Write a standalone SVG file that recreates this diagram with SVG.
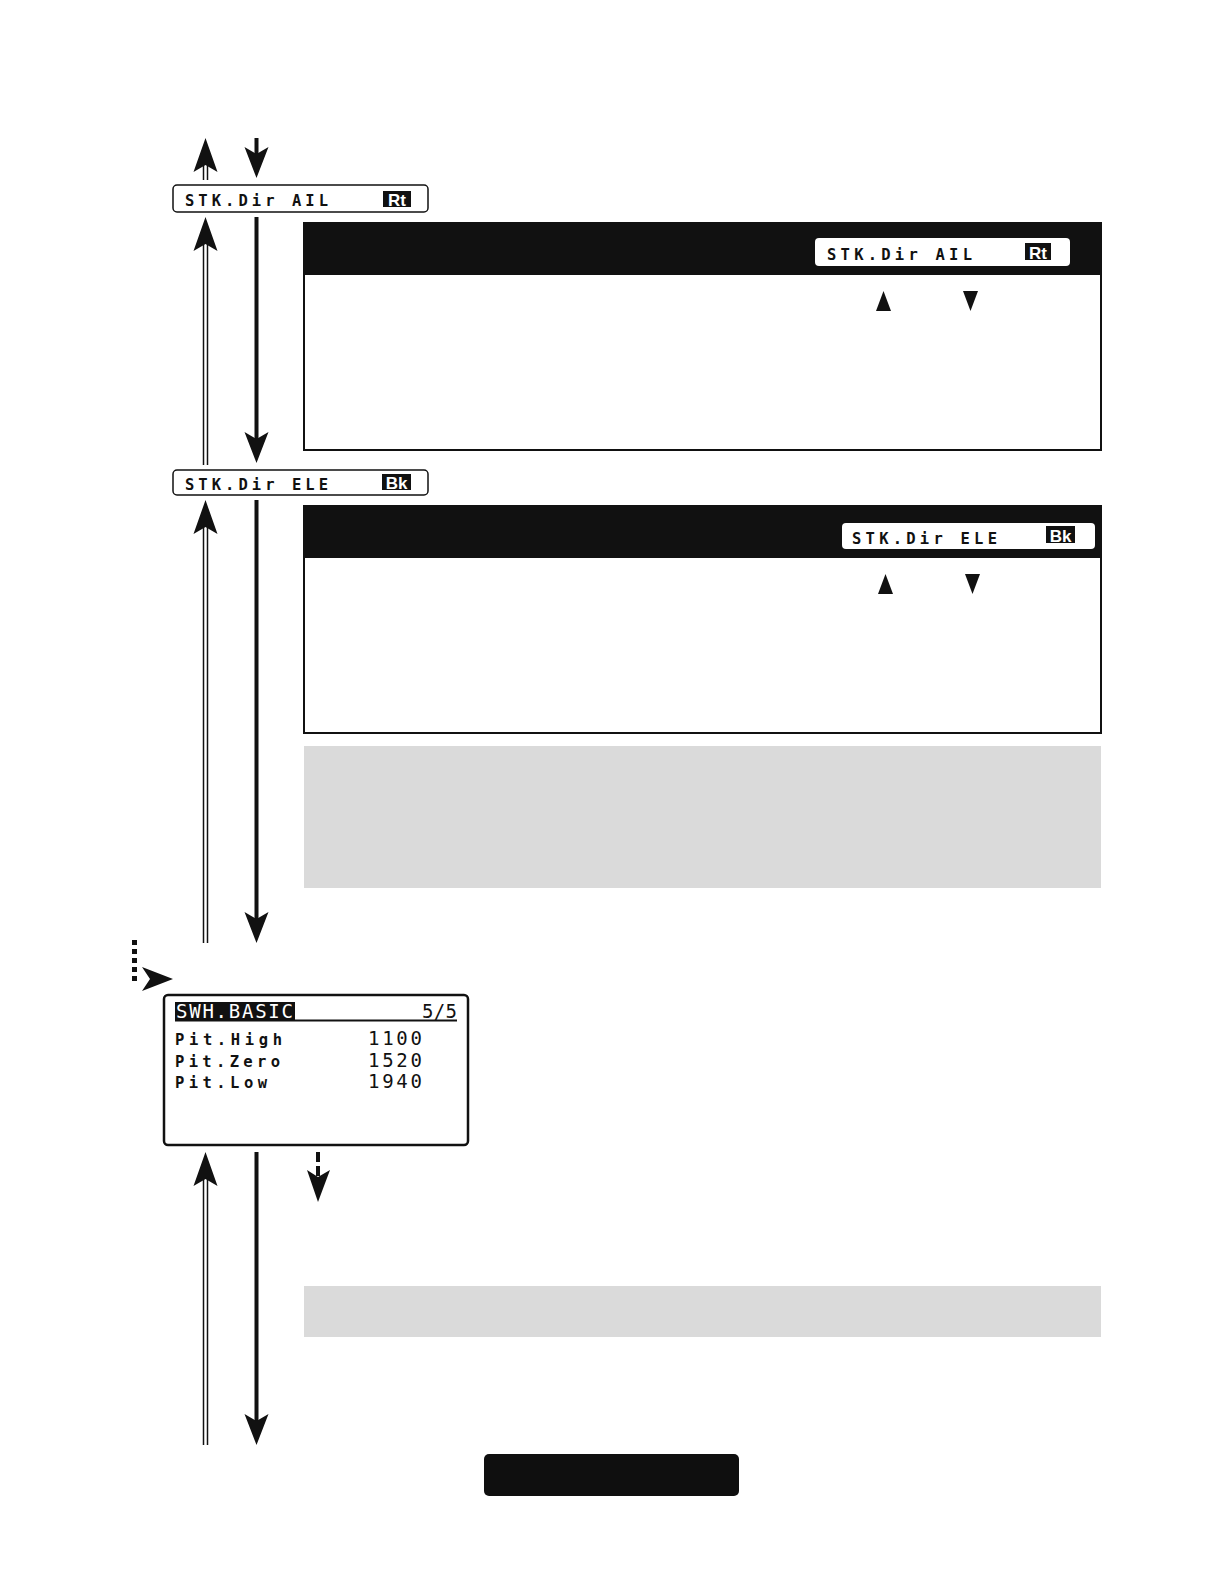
<svg xmlns="http://www.w3.org/2000/svg" xmlns:xlink="http://www.w3.org/1999/xlink" width="1224" height="1584" viewBox="0 0 1224 1584">
<style>
.lcd{font-family:"DejaVu Sans Mono","Liberation Mono",monospace;font-size:15.5px;font-weight:bold;fill:#111}
.lcd2{font-family:"DejaVu Sans Mono","Liberation Mono",monospace;font-size:19px;fill:#111}
.inv{font-family:"Liberation Sans","DejaVu Sans",sans-serif;font-size:17px;font-weight:bold;fill:#fff}
.lbl{fill:#fff;stroke:#111;stroke-width:1.5}
.panel{fill:#fff;stroke:#111;stroke-width:2}
.hdr{fill:#111}
.note{fill:#dadada}
.dbl{stroke:#111;stroke-width:1.5;fill:none}
.shaft{stroke:#111;stroke-width:4;fill:none}
.head{fill:#111}
</style>
<defs>
<path id="upHead" d="M0,0 L12,34 L0,27 L-12,34 Z"/>
<path id="dnHead" d="M0,0 L-12,-31 L0,-24 L12,-31 Z"/>
</defs>

<g id="connectors">
  <!-- segment 0 (top) -->
  <line class="dbl" x1="203.5" y1="162" x2="203.5" y2="180"/>
  <line class="dbl" x1="207.5" y1="162" x2="207.5" y2="180"/>
  <use href="#upHead" class="head" x="205.5" y="138"/>
  <line class="shaft" x1="256.5" y1="138" x2="256.5" y2="158"/>
  <use href="#dnHead" class="head" x="256.5" y="178"/>
  <!-- segment 1 -->
  <line class="dbl" x1="203.5" y1="240" x2="203.5" y2="465"/>
  <line class="dbl" x1="207.5" y1="240" x2="207.5" y2="465"/>
  <use href="#upHead" class="head" x="205.5" y="217"/>
  <line class="shaft" x1="256.5" y1="217" x2="256.5" y2="443"/>
  <use href="#dnHead" class="head" x="256.5" y="463"/>
  <!-- segment 2 -->
  <line class="dbl" x1="203.5" y1="523" x2="203.5" y2="943"/>
  <line class="dbl" x1="207.5" y1="523" x2="207.5" y2="943"/>
  <use href="#upHead" class="head" x="205.5" y="500"/>
  <line class="shaft" x1="256.5" y1="500" x2="256.5" y2="923"/>
  <use href="#dnHead" class="head" x="256.5" y="943"/>
  <!-- segment 3 -->
  <line class="dbl" x1="203.5" y1="1175" x2="203.5" y2="1445"/>
  <line class="dbl" x1="207.5" y1="1175" x2="207.5" y2="1445"/>
  <use href="#upHead" class="head" x="205.5" y="1152"/>
  <line class="shaft" x1="256.5" y1="1152" x2="256.5" y2="1425"/>
  <use href="#dnHead" class="head" x="256.5" y="1445"/>
  <!-- dotted entry arrow -->
  <line x1="134.5" y1="940" x2="134.5" y2="983" stroke="#111" stroke-width="5" stroke-dasharray="5 4"/>
  <path class="head" d="M173,979 L142,967 L150,979 L142,991 Z"/>
  <!-- dashed exit arrow -->
  <line x1="318" y1="1152" x2="318" y2="1178" stroke="#111" stroke-width="4" stroke-dasharray="10 4"/>
  <path class="head" d="M318,1202 L307,1170 L318,1177 L330,1170 Z"/>
</g>

<g id="node-stk-ail">
  <rect class="lbl" x="173" y="185" width="255" height="27" rx="4"/>
  <text class="lcd" x="185" y="206" textLength="143" lengthAdjust="spacing">STK.Dir AIL</text>
  <rect x="383" y="191" width="28" height="16" fill="#111"/>
  <text class="inv" x="397" y="206" text-anchor="middle">Rt</text>
</g>

<g id="node-panel-ail">
  <rect class="panel" x="304" y="223" width="797" height="227"/>
  <rect class="hdr" x="304" y="223" width="797" height="52"/>
  <rect x="815" y="238" width="255" height="28" rx="4" fill="#fff"/>
  <text class="lcd" x="827" y="260" textLength="145" lengthAdjust="spacing">STK.Dir AIL</text>
  <rect x="1025" y="243" width="26" height="17" fill="#111"/>
  <text class="inv" x="1038" y="259" text-anchor="middle">Rt</text>
  <polygon class="head" points="883.5,291 891,311 876,311"/>
  <polygon class="head" points="963,291 978,291 970.5,311"/>
</g>

<g id="node-stk-ele">
  <rect class="lbl" x="173" y="470" width="255" height="25" rx="4"/>
  <text class="lcd" x="185" y="490" textLength="143" lengthAdjust="spacing">STK.Dir ELE</text>
  <rect x="382" y="474" width="29" height="16" fill="#111"/>
  <text class="inv" x="396.5" y="489" text-anchor="middle">Bk</text>
</g>

<g id="node-panel-ele">
  <rect class="panel" x="304" y="506" width="797" height="227"/>
  <rect class="hdr" x="304" y="506" width="797" height="52"/>
  <rect x="842" y="523" width="253" height="26" rx="4" fill="#fff"/>
  <text class="lcd" x="852" y="544" textLength="145" lengthAdjust="spacing">STK.Dir ELE</text>
  <rect x="1046" y="526" width="29" height="17" fill="#111"/>
  <text class="inv" x="1060.5" y="542" text-anchor="middle">Bk</text>
  <polygon class="head" points="885.5,574 893,594 878,594"/>
  <polygon class="head" points="965,574 980,574 972.5,594"/>
</g>

<g id="node-note-1">
  <rect class="note" x="304" y="746" width="797" height="142"/>
</g>

<g id="node-swh-basic">
  <rect x="164" y="995" width="304" height="150" rx="4" fill="#fff" stroke="#111" stroke-width="2.5"/>
  <rect x="175" y="1002" width="120" height="18" fill="#111"/>
  <line x1="175" y1="1020.5" x2="457" y2="1020.5" stroke="#111" stroke-width="2"/>
  <text class="lcd2" x="176" y="1018" textLength="117" lengthAdjust="spacing" style="fill:#fff">SWH.BASIC</text>
  <text class="lcd2" x="422" y="1018" textLength="35" lengthAdjust="spacing">5/5</text>
  <text class="lcd" x="175" y="1045" textLength="107" lengthAdjust="spacing">Pit.High</text>
  <text class="lcd" x="175" y="1067" textLength="105" lengthAdjust="spacing">Pit.Zero</text>
  <text class="lcd" x="175" y="1088" textLength="92" lengthAdjust="spacing">Pit.Low</text>
  <text class="lcd2" x="368" y="1045" textLength="54" lengthAdjust="spacing">1100</text>
  <text class="lcd2" x="368" y="1067" textLength="54" lengthAdjust="spacing">1520</text>
  <text class="lcd2" x="368" y="1088" textLength="54" lengthAdjust="spacing">1940</text>
</g>

<g id="node-note-2">
  <rect class="note" x="304" y="1286" width="797" height="51"/>
</g>

<g id="node-pill">
  <rect x="484" y="1454" width="255" height="42" rx="5" fill="#0f0f0f"/>
</g>
</svg>
